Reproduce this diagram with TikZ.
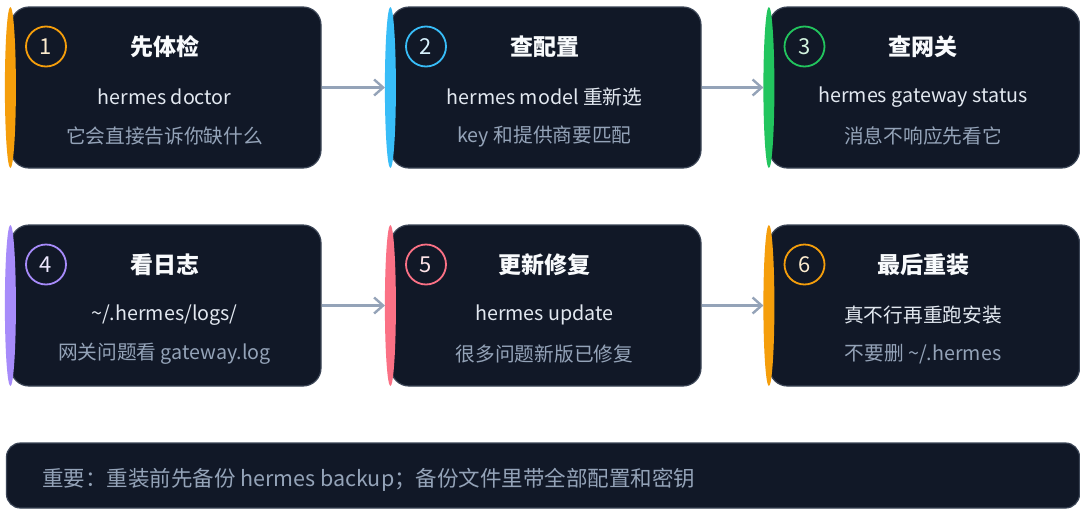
\documentclass[tikz,border=0pt]{standalone}
\usepackage{fontspec}
\setmainfont{Noto Sans CJK SC}
\usetikzlibrary{arrows.meta,calc}
\definecolor{cardbg}{HTML}{111827}
\definecolor{cardedge}{HTML}{3A4455}
\definecolor{cAmber}{HTML}{F59E0B}
\definecolor{cSky}{HTML}{38BDF8}
\definecolor{cGreen}{HTML}{22C55E}
\definecolor{cViolet}{HTML}{A78BFA}
\definecolor{cRose}{HTML}{FB7185}
\definecolor{titlecol}{HTML}{F8FAFC}
\definecolor{maincol}{HTML}{E2E8F0}
\definecolor{subcol}{HTML}{94A3B8}
\definecolor{arrowcol}{HTML}{94A3B8}
\tikzset{
  card/.style={draw=cardedge, line width=1.2pt, fill=cardbg, rounded corners=18pt,
    minimum width=310pt, minimum height=161pt, inner sep=0pt},
  numcircle/.style={circle, draw=#1, line width=1.8pt, fill=cardbg, minimum size=40pt,
    inner sep=0pt, font=\fontsize{22}{24}\selectfont, text=#1!20!white},
  titletext/.style={text=titlecol, font=\fontsize{23}{25}\selectfont\bfseries, inner sep=0pt},
  maintext/.style={text=maincol, font=\fontsize{19.7}{21}\selectfont, inner sep=0pt},
  subtext/.style={text=subcol, font=\fontsize{19.7}{21}\selectfont, inner sep=0pt},
  flow/.style={draw=arrowcol, line width=2.4pt, -{Straight Barb[length=9pt,width=16pt,line width=2.4pt]}},
  notebox/.style={draw=cardedge, line width=1.2pt, fill=cardbg, rounded corners=14pt},
}
\newcommand\mkcard[8]{%
  \node[card] (#1) at (#2,#3) {};
  \fill[#4] (#1.west) ellipse [x radius=5.5pt, y radius=80.5pt];
  \node[numcircle=#4] (#1n) at ($(#1.center)+(-120,-41)$) {#5};
  \node[titletext] (#1t) at ($(#1.center)+(-1.5,-41)$) {#6};
  \node[maintext] (#1a) at ($(#1.center)+(-1.5,9.5)$) {#7};
  \node[subtext] (#1b) at ($(#1.center)+(-1.5,48.5)$) {#8};
}
\begin{document}
\begin{tikzpicture}[x=1pt,y=-1pt]
\useasboundingbox (0,0) rectangle (1080,509);
\fill[white] (0,0) rectangle (1080,509);
\mkcard{c1}{166}{87.5}{cAmber}{1}{先体检}{hermes doctor}{它会直接告诉你缺什么}
\mkcard{c2}{546}{87.5}{cSky}{2}{查配置}{hermes model 重新选}{key 和提供商要匹配}
\mkcard{c3}{924.5}{87.5}{cGreen}{3}{查网关}{hermes gateway status}{消息不响应先看它}
\mkcard{c4}{166}{305.5}{cViolet}{4}{看日志}{\textasciitilde/.hermes/logs/}{网关问题看 gateway.log}
\mkcard{c5}{546}{305.5}{cRose}{5}{更新修复}{hermes update}{很多问题新版已修复}
\mkcard{c6}{924.5}{305.5}{cAmber}{6}{最后重装}{真不行再重跑安装}{不要删 \textasciitilde/.hermes}
\draw[flow] (c1.east) -- ($(c2.west)+(-5.5,0)$);
\draw[flow] (c2.east) -- ($(c3.west)+(-5.5,0)$);
\draw[flow] (c4.east) -- ($(c5.west)+(-5.5,0)$);
\draw[flow] (c5.east) -- ($(c6.west)+(-5.5,0)$);
\node[notebox, minimum width=1073pt, minimum height=65pt] (note) at (543,475.5) {};
\node[subtext, anchor=west, font=\fontsize{21.5}{23}\selectfont] (notet) at ($(note.west)+(36,4)$) {重要：重装前先备份 hermes backup；备份文件里带全部配置和密钥};
\end{tikzpicture}
\end{document}
